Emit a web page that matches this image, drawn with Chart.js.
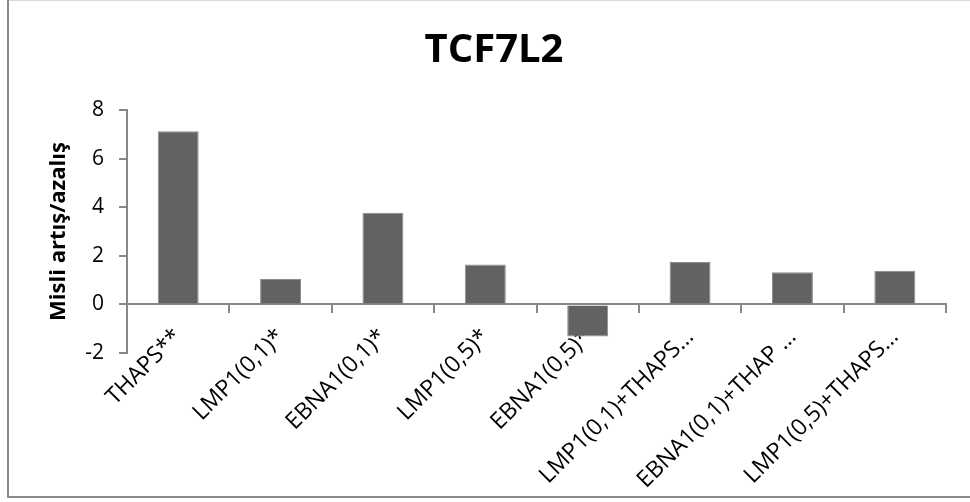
<!DOCTYPE html>
<html>
<head>
<meta charset="utf-8">
<script src="https://cdn.jsdelivr.net/npm/chart.js@4/dist/chart.umd.min.js"></script>
<style>
  html, body { margin: 0; padding: 0; background: #fff; }
  #wrap { width: 970px; height: 502px; position: relative; }
</style>
</head>
<body>
<div id="wrap"><canvas id="tcfChart"></canvas></div>
<script>
// Fold change per treatment
const categories = [
  'THAPS**',
  'LMP1(0,1)*',
  'EBNA1(0,1)*',
  'LMP1(0,5)*',
  'EBNA1(0,5)*',
  'LMP1(0,1)+THAPS…',
  'EBNA1(0,1)+THAP …',
  'LMP1(0,5)+THAPS…'
];
const foldChange = [7.13, 1.05, 3.77, 1.64, -1.32, 1.75, 1.32, 1.38];
const yTicks = [-2, 0, 2, 4, 6, 8];

const axisGray = '#878787';
const fontFamily = '"Open Sans", sans-serif';

// frame around the whole chart object
const framePlugin = {
  id: 'frame',
  beforeDraw(chart) {
    const ctx = chart.ctx;
    ctx.save();
    ctx.strokeStyle = '#d9d9d9';
    ctx.lineWidth = 1;
    ctx.beginPath();
    ctx.moveTo(8, 0.5);
    ctx.lineTo(chart.width, 0.5);
    ctx.stroke();
    ctx.strokeStyle = '#8a8a8a';
    ctx.lineWidth = 2;
    ctx.beginPath();
    ctx.moveTo(8, 0);
    ctx.lineTo(8, 497);
    ctx.lineTo(chart.width, 497);
    ctx.stroke();
    ctx.restore();
  }
};

const ctx = document.getElementById('tcfChart').getContext('2d');
new Chart(ctx, {
  type: 'bar',
  data: {
    labels: categories,
    datasets: [{
      label: 'TCF7L2',
      data: foldChange,
      backgroundColor: '#626262',
      borderColor: '#8c8c8c',
      borderWidth: 1,
      barPercentage: 0.4,
      categoryPercentage: 1
    }]
  },
  options: {
    responsive: true,
    maintainAspectRatio: false,
    animation: false,
    layout: {
      padding: { left: 18, right: 0, top: 0, bottom: 149 }
    },
    plugins: {
      legend: { display: false },
      tooltip: { enabled: false },
      title: {
        display: true,
        text: 'TCF7L2',
        color: '#000',
        font: { family: fontFamily, size: 40, weight: 'bold' },
        padding: { top: 27, bottom: 35 }
      }
    },
    scales: {
      x: {
        position: { y: 0 },
        offset: true,
        // keep the axis end clear of the right edge
        afterFit: scale => { scale.paddingRight = 24; },
        grid: {
          offset: true,
          drawOnChartArea: false,
          drawTicks: true,
          tickLength: 8,
          color: axisGray,
          lineWidth: 2
        },
        border: { color: axisGray, width: 2 },
        ticks: {
          autoSkip: false,
          maxRotation: 45,
          minRotation: 45,
          padding: 11,
          color: '#000',
          font: { family: fontFamily, size: 23 }
        }
      },
      y: {
        min: -2,
        max: 8,
        afterFit: scale => { scale.width = 109; },
        afterBuildTicks: scale => {
          scale.ticks = yTicks.map(v => ({ value: v }));
        },
        grid: {
          drawOnChartArea: false,
          drawTicks: true,
          tickLength: 8,
          color: axisGray,
          lineWidth: 2
        },
        border: { color: axisGray, width: 2 },
        ticks: {
          padding: 15,
          color: '#000',
          font: { family: fontFamily, size: 21 }
        },
        title: {
          display: true,
          text: 'Misli artış/azalış',
          color: '#000',
          font: { family: fontFamily, size: 22, weight: 'bold' },
          padding: { top: 28, bottom: 0 }
        }
      }
    }
  },
  plugins: [framePlugin]
});
</script>
</body>
</html>
